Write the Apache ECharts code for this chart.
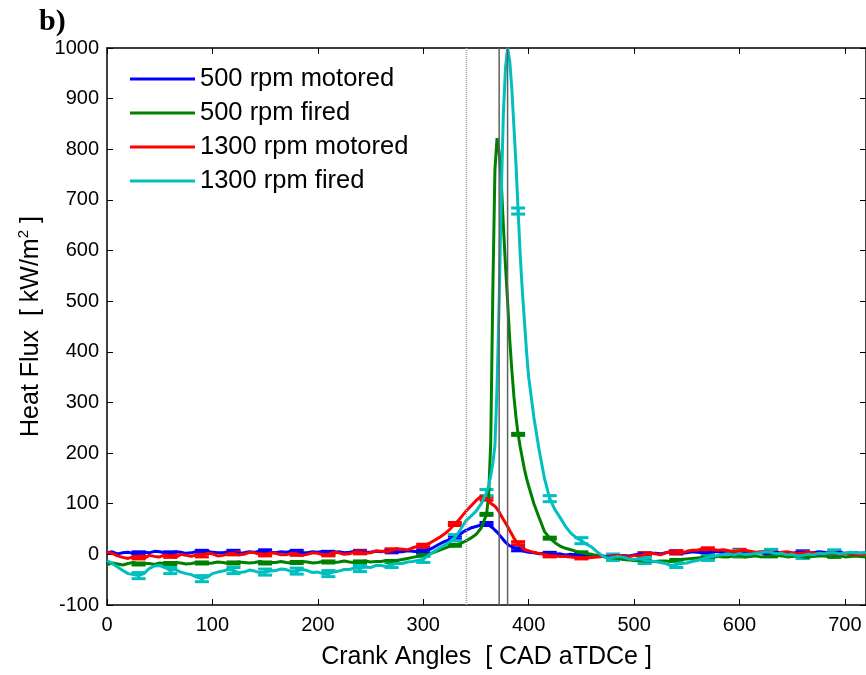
<!DOCTYPE html>
<html>
<head>
<meta charset="utf-8">
<script src="https://cdn.jsdelivr.net/npm/echarts@6/dist/echarts.min.js"></script>
<style>
html,body{margin:0;padding:0;background:#fff;}
#chart{width:866px;height:675px;}
</style>
</head>
<body>
<div id="chart"></div>
<script>
// ---- data ----
const cad = [
  0,5,10,15,20,25,30,35,40,45,
  50,55,60,65,70,75,80,85,90,95,
  100,105,110,115,120,125,130,135,140,145,
  150,155,160,165,170,175,180,185,190,195,
  200,205,210,215,220,225,230,235,240,245,
  250,255,260,265,270,275,280,285,290,295,
  300,
  305,310,315,320,325,330,335,340,345,350,355,
  360,362,364,366,368,370,372,374,376,378,380,382,384,386,388,390,392,394,396,398,400,
  405,410,415,420,425,430,435,440,445,450,455,460,
  465,470,475,480,485,490,495,500,505,510,
  515,520,525,530,535,540,545,550,555,560,
  565,570,575,580,585,590,595,600,605,610,
  615,620,625,630,635,640,645,650,655,660,
  665,670,675,680,685,690,695,700,705,710,
  715,720
];
const seriesNames = ['500 rpm motored','500 rpm fired','1300 rpm motored','1300 rpm fired'];
const motored500 = [
  3,5,1,3,4,2,2,4,3,6,
  5,3,2,5,4,2,3,6,5,7,
  4,3,3,5,5,2,3,5,4,7,
  6,4,3,5,4,6,5,3,3,5,
  4,6,3,4,5,3,4,6,5,4,
  4,6,5,7,6,5,5,7,6,5,
  6,
  9,14,20,25,29,33,40,47,52,55,58,
  60,58,55,52,48,44,39,34,29,24,20,17,15,13,11,10,8,7,6,5,4,
  3,1,2,1,0,1,-1,0,-1,-2,-1,-2,
  -2,-3,-4,-3,-2,-2,-3,-1,1,0,
  2,2,1,3,5,4,2,3,5,4,
  3,3,5,5,3,4,2,3,4,2,
  3,3,1,2,4,3,2,2,4,4,
  2,3,5,4,2,3,4,2,3,3,
  2,3
];
const fired500 = [
  -20,-17,-19,-21,-18,-16,-19,-18,-18,-20,
  -17,-18,-18,-16,-17,-19,-18,-16,-17,-18,
  -17,-15,-16,-18,-17,-15,-16,-17,-16,-14,
  -17,-16,-16,-14,-16,-17,-16,-14,-15,-17,
  -16,-14,-15,-16,-15,-13,-15,-16,-15,-13,
  -15,-14,-14,-12,-14,-12,-10,-8,-6,-4,
  -2,
  0,4,8,12,16,18,21,26,32,39,52,
  79,115,220,520,760,822,795,735,650,570,500,425,365,312,270,237,212,190,168,150,135,
  100,72,45,32,23,16,12,9,6,3,1,0,
  -2,-4,-5,-7,-8,-10,-11,-12,-12,-13,
  -14,-14,-13,-13,-14,-12,-10,-9,-8,-7,
  -6,-5,-6,-4,-5,-5,-3,-3,-5,-4,
  -3,-5,-4,-3,-2,-3,-5,-4,-3,-5,
  -6,-4,-3,-3,-5,-4,-3,-5,-4,-3,
  -4,-5
];
const motored1300 = [
  4,2,-3,-6,-8,-5,-6,-8,-2,-4,
  -5,-1,-3,-6,0,-2,-4,-1,-2,2,
  1,-3,-2,1,2,-1,0,4,3,0,
  0,3,2,-1,-1,2,1,-2,0,3,
  2,-1,0,4,3,0,1,5,4,2,
  3,7,6,5,8,11,10,9,13,16,
  17,
  21,27,33,40,49,60,71,84,95,106,115,
  110,106,101,98,95,90,84,76,69,62,55,47,40,32,26,22,17,13,10,8,7,
  4,2,0,-2,-3,-4,-4,-5,-6,-6,-7,-6,
  -5,-4,-6,-3,-2,-3,-5,-2,-3,0,
  2,1,-1,3,5,4,3,6,8,8,
  11,10,9,8,9,7,5,7,8,6,
  4,5,6,4,2,4,5,3,1,2,
  4,3,1,1,3,2,0,1,2,0,
  -1,2
];
const fired1300 = [
  -12,-18,-25,-32,-38,-40,-42,-38,-28,-23,
  -22,-26,-32,-30,-35,-38,-40,-45,-48,-45,
  -38,-35,-33,-30,-32,-36,-35,-31,-33,-36,
  -35,-33,-32,-29,-30,-34,-33,-30,-32,-36,
  -35,-38,-38,-35,-33,-30,-30,-27,-28,-25,
  -26,-22,-22,-24,-20,-18,-18,-15,-14,-12,
  -10,
  -2,5,12,18,25,33,48,65,75,85,100,
  122,135,155,180,215,330,500,710,870,960,1000,975,920,845,769,678,590,520,460,400,350,
  270,205,150,110,88,72,55,42,33,27,20,14,
  5,-3,-8,-6,-4,-6,-9,-10,-8,-12,
  -13,-14,-16,-18,-22,-20,-18,-17,-14,-12,
  -9,-6,-4,-2,0,1,-1,2,0,0,
  2,3,5,4,1,2,-1,0,-3,-2,
  0,-1,2,1,3,3,1,2,4,3,
  2,4
];
// error-bar positions (CAD) and half-heights (kW/m2)
const errCad = [30,60,90,120,150,180,210,240,270,300,330,360,390,420,450,480,510,540,570,600,630,660,690];
const errHalf = [3, 2, 3, 6];
// reference vertical lines (CAD)
const refLines = [341, 372, 380];
const xTicks = { min: 0, max: 720, interval: 100 };
const yTicks = { min: -100, max: 1000, interval: 100 };

// ---- build ----
const colors = ['#0000FF', '#008000', '#FF0000', '#00BFBF'];
const allVals = [motored500, fired500, motored1300, fired1300];
const font = 'Liberation Sans, Arial, sans-serif';

const series = [];
allVals.forEach((vals, k) => {
  series.push({
    name: seriesNames[k], type: 'line', showSymbol: false, symbol: 'none',
    data: cad.map((c, i) => [c, vals[i]]),
    lineStyle: { color: colors[k], width: 3 }, itemStyle: { color: colors[k] },
    animation: false, z: 2
  });
  const ed = errCad.map(c => [c, vals[cad.indexOf(c)], errHalf[k]]);
  series.push({
    name: 'err' + k, type: 'custom', data: ed, animation: false, z: 2, silent: true,
    renderItem: function (params, api) {
      const x = api.value(0), y = api.value(1), e = api.value(2);
      const c = api.coord([x, y]);
      const t = api.coord([x, y + e]);
      const b = api.coord([x, y - e]);
      const hw = 7;
      const st = { stroke: colors[k], lineWidth: 3 };
      return { type: 'group', children: [
        { type: 'line', shape: { x1: c[0], y1: t[1], x2: c[0], y2: b[1] }, style: st },
        { type: 'line', shape: { x1: c[0] - hw, y1: t[1], x2: c[0] + hw, y2: t[1] }, style: st },
        { type: 'line', shape: { x1: c[0] - hw, y1: b[1], x2: c[0] + hw, y2: b[1] }, style: st }
      ]};
    }
  });
});
series.push({
  name: 'refs', type: 'custom', data: refLines.map(v => [v]), animation: false, z: 5, silent: true,
  renderItem: function (params, api) {
    const x = api.value(0);
    const p0 = api.coord([x, yTicks.min]);
    const p1 = api.coord([x, yTicks.max]);
    const dotted = params.dataIndex === 0;
    return { type: 'line', shape: { x1: p0[0], y1: p0[1], x2: p1[0], y2: p1[1] },
      style: { stroke: dotted ? '#a0a0a0' : '#606060', lineWidth: 1.5, lineDash: dotted ? [1, 1] : null } };
  }
});

const axLine = { show: true, onZero: false, lineStyle: { color: '#000', width: 1.5 } };
const axTick = { show: true, inside: true, length: 6, lineStyle: { color: '#000', width: 1 } };
const fmt = v => String(v);

const option = {
  animation: false,
  backgroundColor: '#fff',
  textStyle: { fontFamily: font },
  grid: { left: 107, top: 48, width: 760, height: 558 },
  legend: {
    data: seriesNames, orient: 'vertical', left: 130, top: 64,
    icon: 'rect', itemWidth: 65, itemHeight: 3, itemGap: 4, padding: 0,
    textStyle: { fontSize: 25.5, fontFamily: font, color: '#000', lineHeight: 30 }
  },
  xAxis: [
    { type: 'value', position: 'bottom', min: xTicks.min, max: xTicks.max, interval: xTicks.interval,
      name: 'Crank Angles  [ CAD aTDCe ]', nameLocation: 'middle', nameGap: 40,
      nameTextStyle: { fontSize: 25, color: '#000', fontFamily: font },
      axisLine: axLine, axisTick: axTick, splitLine: { show: false },
      axisLabel: { fontSize: 20, color: '#000', margin: 10, showMaxLabel: false, fontFamily: font, formatter: fmt } },
    { type: 'value', position: 'top', min: xTicks.min, max: xTicks.max, interval: xTicks.interval,
      axisLine: axLine, axisTick: axTick, splitLine: { show: false }, axisLabel: { show: false } }
  ],
  yAxis: [
    { type: 'value', position: 'left', min: yTicks.min, max: yTicks.max, interval: yTicks.interval,
      name: '{n|Heat Flux  [ kW/m}{s|2}{n| ]}', nameLocation: 'middle', nameGap: 58, nameRotate: 90,
      nameTextStyle: { color: '#000', fontFamily: font,
        rich: { n: { fontSize: 25, fontFamily: font, color: '#000', lineHeight: 30 },
                s: { fontSize: 15, fontFamily: font, color: '#000', lineHeight: 30, verticalAlign: 'top' } } },
      axisLine: axLine, axisTick: axTick, splitLine: { show: false },
      axisLabel: { fontSize: 20, color: '#000', margin: 8, fontFamily: font, formatter: fmt } },
    { type: 'value', position: 'right', min: yTicks.min, max: yTicks.max, interval: yTicks.interval,
      axisLine: axLine, axisTick: axTick, splitLine: { show: false }, axisLabel: { show: false } }
  ],
  graphic: [
    { type: 'text', left: 39, top: 7, style: { text: 'b)', font: 'bold 30px "Liberation Serif", "Times New Roman", serif', fill: '#000' } }
  ],
  series: series
};
const chart = echarts.init(document.getElementById('chart'), null, { renderer: 'canvas' });
chart.setOption(option);
</script>
</body>
</html>
